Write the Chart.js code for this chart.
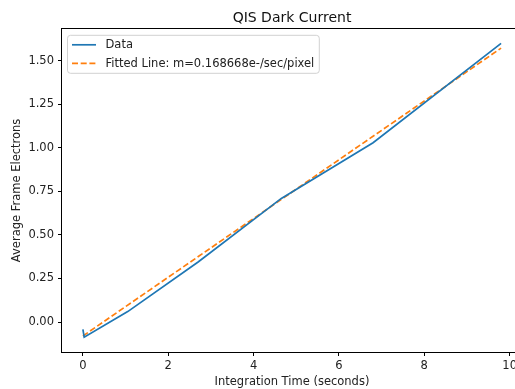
<!DOCTYPE html>
<html>
<head>
<meta charset="utf-8">
<script src="https://cdn.jsdelivr.net/npm/chart.js@4"></script>
<style>
	html, body { margin: 0; padding: 0; overflow: hidden; background: #fff; }
	canvas { display: block; }
</style>
</head>
<body>
<canvas id="my_Chart" width="530" height="389"></canvas>
<script>
// values
var dataX = [0, 0.03, 1.05, 2.7, 4.65, 6.8, 9.8];
var dataY = [-0.042, -0.087, 0.06, 0.345, 0.71, 1.03, 1.60];
var fitX = [0, 9.8];
var fitY = [-0.08, 1.573];
var xTicks = [0, 2, 4, 6, 8, 10];
var yTicks = [0, 0.25, 0.5, 0.75, 1.0, 1.25, 1.5];
var seriesLabels = ['Data', 'Fitted Line: m=0.168668e-/sec/pixel'];
var seriesColors = ['#1f77b4', '#ff7f0e'];

var FONT = "'DejaVu Sans', sans-serif";
var FS = 11.5;

function toPoints(xs, ys){
	var pts = [];
	for(var i = 0; i < xs.length; i++){
		pts.push({x: xs[i], y: ys[i]});
	}
	return pts;
}

// axes frame (all four spines like matplotlib)
var framePlugin = {
	id: 'frame',
	afterDraw: function(chart){
		var a = chart.chartArea;
		var c = chart.ctx;
		c.save();
		c.strokeStyle = '#000';
		c.lineWidth = 1;
		c.strokeRect(Math.round(a.left) - 0.5, Math.round(a.top) - 0.5,
			Math.round(a.right - a.left) + 1, Math.round(a.bottom - a.top) + 1);
		c.restore();
	}
};

// legend in the upper left corner of the plot
var legendPlugin = {
	id: 'boxLegend',
	afterDraw: function(chart){
		var a = chart.chartArea;
		var c = chart.ctx;
		var ds = chart.data.datasets;
		c.save();
		c.font = FS + 'px ' + FONT;
		var maxW = 0;
		ds.forEach(function(d){ maxW = Math.max(maxW, c.measureText(d.label).width); });
		var bx = a.left + 5.5, by = a.top + 6.5;
		var textX = bx + 38;
		var bw = textX - bx + maxW + 5, bh = 38;
		c.beginPath();
		c.roundRect(bx, by, bw, bh, 3);
		c.fillStyle = 'rgba(255,255,255,0.8)';
		c.fill();
		c.strokeStyle = 'rgba(204,204,204,0.9)';
		c.lineWidth = 1;
		c.stroke();
		ds.forEach(function(d, i){
			var y = by + 9.5 + i * 18.5;
			c.beginPath();
			c.setLineDash(d.borderDash || []);
			c.strokeStyle = d.borderColor;
			c.lineWidth = d.borderWidth;
			c.moveTo(bx + 4.5, y);
			c.lineTo(bx + 28.5, y);
			c.stroke();
			c.setLineDash([]);
			c.fillStyle = '#222';
			c.textBaseline = 'middle';
			c.textAlign = 'left';
			c.fillText(d.label, textX, y + 0.5);
		});
		c.restore();
	}
};

var ctx = document.getElementById('my_Chart').getContext('2d');
var myChart = new Chart(ctx, {
	type: 'line',
	data: {
		datasets: [{
			label: seriesLabels[0],
			data: toPoints(dataX, dataY),
			borderColor: seriesColors[0],
			borderWidth: 1.7,
			pointRadius: 0,
			tension: 0,
			fill: false
		}, {
			label: seriesLabels[1],
			data: toPoints(fitX, fitY),
			borderColor: seriesColors[1],
			borderWidth: 1.7,
			borderDash: [6, 2.7],
			pointRadius: 0,
			tension: 0,
			fill: false
		}]
	},
	options: {
		responsive: false,
		animation: false,
		layout: { padding: { left: 0, right: 8, top: 0, bottom: 0 } },
		plugins: {
			legend: { display: false },
			tooltip: { enabled: false },
			title: {
				display: true,
				text: 'QIS Dark Current',
				color: '#111',
				font: { family: FONT, size: 14, weight: 'normal' },
				padding: { top: 10, bottom: 2 },
				fullSize: false
			}
		},
		scales: {
			x: {
				type: 'linear',
				min: -0.49,
				max: 10.29,
				afterBuildTicks: function(scale){
					scale.ticks = xTicks.map(function(v){ return {value: v}; });
				},
				afterFit: function(scale){ scale.height = 37; },
				border: { display: false },
				grid: { display: true, drawOnChartArea: false, drawTicks: true, tickLength: 4, color: '#000', tickWidth: 1 },
				ticks: {
					padding: 3,
					maxRotation: 0,
					color: '#222',
					font: { family: FONT, size: FS },
					callback: function(v){ return String(v); }
				},
				title: {
					display: true,
					text: 'Integration Time (seconds)',
					color: '#222',
					font: { family: FONT, size: FS },
					padding: { top: 1, bottom: 0 }
				}
			},
			y: {
				type: 'linear',
				min: -0.172,
				max: 1.684,
				afterBuildTicks: function(scale){
					scale.ticks = yTicks.map(function(v){ return {value: v}; });
				},
				afterFit: function(scale){ scale.width = 62; },
				border: { display: false },
				grid: { display: true, drawOnChartArea: false, drawTicks: true, tickLength: 4, color: '#000', tickWidth: 1 },
				ticks: {
					padding: 4,
					color: '#222',
					font: { family: FONT, size: FS },
					callback: function(v){ return Number(v).toFixed(2); }
				},
				title: {
					display: true,
					text: 'Average Frame Electrons',
					color: '#222',
					font: { family: FONT, size: FS },
					padding: { top: 10, bottom: 0 }
				}
			}
		}
	},
	plugins: [framePlugin, legendPlugin]
});
</script>
</body>
</html>
